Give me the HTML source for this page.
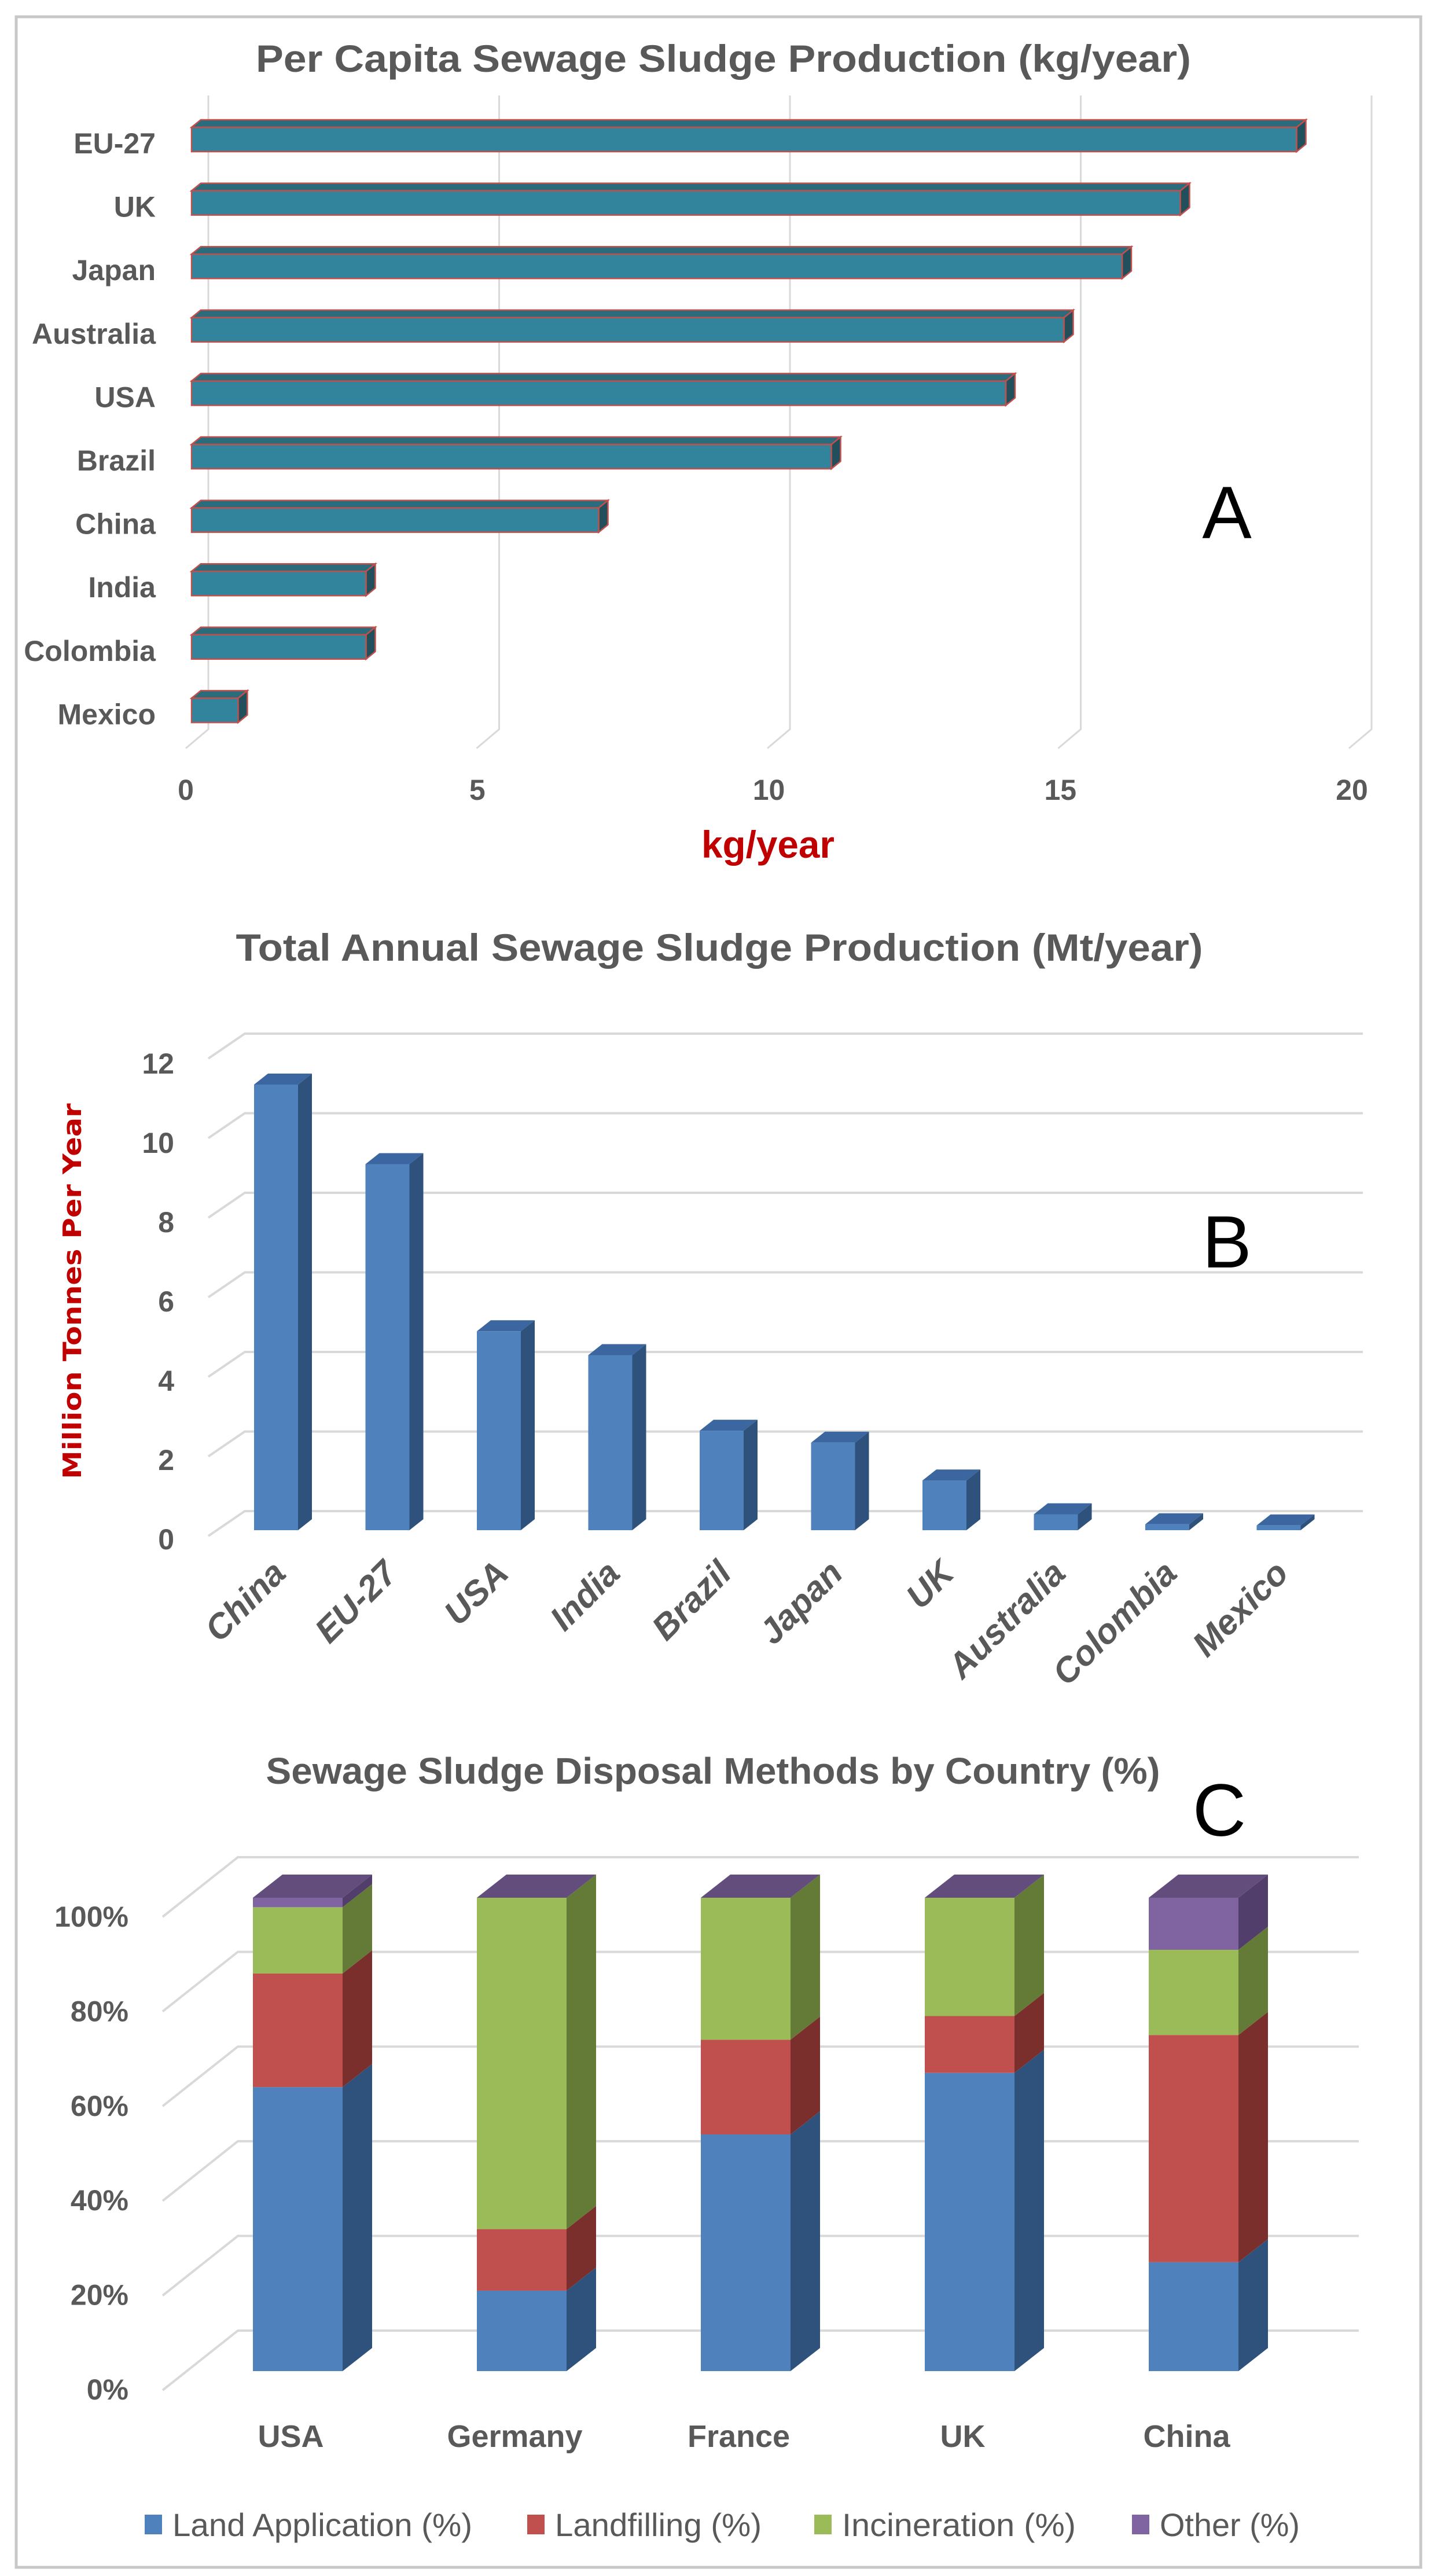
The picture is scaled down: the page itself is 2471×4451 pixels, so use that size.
<!DOCTYPE html>
<html><head><meta charset="utf-8"><style>
html,body{margin:0;padding:0;background:#fff}
svg{display:block}
text{font-family:"Liberation Sans Narrow","Liberation Sans",sans-serif}
</style></head><body>
<svg id="fig" width="2471" height="4451" viewBox="0 0 2471 4451" xmlns="http://www.w3.org/2000/svg">
<rect x="28" y="29" width="2427" height="4407" fill="#fff" stroke="#c8c8c8" stroke-width="5"/>
<g id="A"></g>
<g id="B"></g>
<g id="C"></g>
</svg>
<script>
const NS="http://www.w3.org/2000/svg";
// ---- Chart A data ----
const aCategories=["EU-27","UK","Japan","Australia","USA","Brazil","China","India","Colombia","Mexico"];
const aValues=[19,17,16,15,14,11,7,3,3,0.8];
const aTicks=[0,5,10,15,20];
// ---- Chart B data ----
const bCategories=["China","EU-27","USA","India","Brazil","Japan","UK","Australia","Colombia","Mexico"];
const bValues=[11.2,9.2,5.0,4.4,2.5,2.2,1.25,0.4,0.15,0.12];
const bTicks=[0,2,4,6,8,10,12];
// ---- Chart C data ----
const cCategories=["USA","Germany","France","UK","China"];
const cLand=[60,17,50,63,23];
const cLandfill=[24,13,20,12,48];
const cIncin=[14,70,30,25,18];
const cOther=[2,0,0,0,11];
const cSeriesNames=["Land Application (%)","Landfilling (%)","Incineration (%)","Other (%)"];
const cTicks=[0,20,40,60,80,100];

function el(tag,attrs,parent,txt){const e=document.createElementNS(NS,tag);for(const k in attrs)e.setAttribute(k,attrs[k]);if(txt!==undefined)e.textContent=txt;parent.appendChild(e);return e;}
function poly(pts){return pts.map(p=>p.join(",")).join(" ");}
const GREY="#595959";

// ===== Chart A =====
(function(){
const g=document.getElementById("A");
const x0=331,k=100.5,bx0=360,rowY0=220,rowH=109.6,bh=42,ddx=16,ddy=13;
const xs=v=>x0+v*k;
let t=el("text",{x:1250,y:124,"text-anchor":"middle","font-size":66,"font-weight":"bold",fill:GREY,textLength:1616,lengthAdjust:"spacingAndGlyphs"},g,"Per Capita Sewage Sludge Production (kg/year)");


aTicks.forEach(v=>{
 const bx=bx0+v*k;
 let l=el("polyline",{points:poly([[bx,165],[bx,1260],[bx-39,1293]]),fill:"none",stroke:"#d9d9d9","stroke-width":3},g);
 
 
 let tt=el("text",{x:321+v*100.75,y:1382,"text-anchor":"middle","font-size":50,"font-weight":"bold",fill:GREY},g,String(v));
 
 
});
aCategories.forEach((c,i)=>{
 const y=rowY0+i*rowH,x1=xs(aValues[i]);
 const bar=el("g",{},g);
 
 
 el("polygon",{points:poly([[x0,y],[x0+ddx,y-ddy],[x1+ddx,y-ddy],[x1,y]]),fill:"#2a6c7c",stroke:"#c0504d","stroke-width":2.5},bar);
 el("polygon",{points:poly([[x1,y],[x1+ddx,y-ddy],[x1+ddx,y+bh-ddy],[x1,y+bh]]),fill:"#21505c",stroke:"#c0504d","stroke-width":2.5},bar);
 el("rect",{x:x0,y:y,width:x1-x0,height:bh,fill:"#31849b",stroke:"#c0504d","stroke-width":2.5},bar);
 let lb=el("text",{x:269,y:y+bh/2+24,"text-anchor":"end","font-size":50,"font-weight":"bold",fill:GREY},g,c);
 
 
});
t=el("text",{x:1327,y:1482,"text-anchor":"middle","font-size":66,"font-weight":"bold",fill:"#c00000",textLength:230,lengthAdjust:"spacingAndGlyphs"},g,"kg/year");


t=el("text",{x:2120,y:930,"text-anchor":"middle","font-size":128,fill:"#000"},g,"A");


})();

// ===== Chart B =====
(function(){
const g=document.getElementById("B");
const base=2644,k=68.75,bx=439,step=192.5,bw=76,ddx=24,ddy=19,backBase=2611;
let t=el("text",{x:1243,y:1660,"text-anchor":"middle","font-size":66,"font-weight":"bold",fill:GREY,textLength:1671,lengthAdjust:"spacingAndGlyphs"},g,"Total Annual Sewage Sludge Production (Mt/year)");


bTicks.forEach(v=>{
 const y=backBase-v*k;
 let l=el("polyline",{points:poly([[360,y+43],[423,y],[2355,y]]),fill:"none",stroke:"#d9d9d9","stroke-width":4},g);
 
 
 let tt=el("text",{x:301,y:2659-v*68.5+18,"text-anchor":"end","font-size":50,"font-weight":"bold",fill:GREY},g,String(v));
 
 
});
bCategories.forEach((c,i)=>{
 const x=bx+i*step,yt=base-bValues[i]*k;
 const bar=el("g",{},g);
 
 
 el("polygon",{points:poly([[x,yt],[x+ddx,yt-ddy],[x+bw+ddx,yt-ddy],[x+bw,yt]]),fill:"#3c66a0"},bar);
 el("polygon",{points:poly([[x+bw,yt],[x+bw+ddx,yt-ddy],[x+bw+ddx,base-ddy],[x+bw,base]]),fill:"#2f527d"},bar);
 el("rect",{x:x,y:y=yt,width:bw,height:base-yt,fill:"#4f81bd"},bar);
 const ax=x+bw/2+20,ay=2722;
 let lb=el("text",{x:ax,y:ay,"text-anchor":"end","font-size":60,"font-weight":"bold","font-style":"italic",fill:GREY,transform:`rotate(-45 ${ax} ${ay})`},g,c);
 
 
});
t=el("text",{x:140,y:2231,"text-anchor":"middle","font-size":44,"font-weight":"bold",fill:"#c00000",style:'font-family:"DejaVu Sans",sans-serif',textLength:649,lengthAdjust:"spacingAndGlyphs",transform:"rotate(-90 140 2231)"},g,"Million Tonnes Per Year");


t=el("text",{x:2120,y:2190,"text-anchor":"middle","font-size":128,fill:"#000"},g,"B");


})();

// ===== Chart C =====
(function(){
const g=document.getElementById("C");
const base=4097,k=8.18,bx=437,step=387,bw=155,ddx=51,ddy=40,backBase=4027;
const front=["#4f81bd","#c0504d","#9bbb59","#8064a2"];
const side=["#2f527d","#7b2f2d","#647a37","#523e6a"];
const topc="#624d7d";
const series=[cLand,cLandfill,cIncin,cOther];
let t=el("text",{x:1232,y:3082,"text-anchor":"middle","font-size":64,"font-weight":"bold",fill:GREY,textLength:1545,lengthAdjust:"spacingAndGlyphs"},g,"Sewage Sludge Disposal Methods by Country (%)");


cTicks.forEach(v=>{
 const y=backBase-v*k;
 let l=el("polyline",{points:poly([[281,y+103],[411,y],[2348,y]]),fill:"none",stroke:"#d9d9d9","stroke-width":4},g);
 
 
 let tt=el("text",{x:222,y:4128-v*8.17+18,"text-anchor":"end","font-size":50,"font-weight":"bold",fill:GREY},g,v+"%");
 
 
});
cCategories.forEach((c,i)=>{
 const x=bx+i*step;
 let cum=0;
 const stack=el("g",{},g);
 
 
 series.forEach((s,si)=>{
  const v=s[i]; if(v<=0){return;}
  const y0=base-cum*k,y1=base-(cum+v)*k; cum+=v;
  const seg=el("g",{},stack);
  
  
  el("polygon",{points:poly([[x+bw,y1],[x+bw+ddx,y1-ddy],[x+bw+ddx,y0-ddy],[x+bw,y0]]),fill:side[si]},seg);
  el("rect",{x:x,y:y1,width:bw,height:y0-y1,fill:front[si]},seg);
 });
 const yt=base-cum*k;
 let tp=el("polygon",{points:poly([[x,yt],[x+ddx,yt-ddy],[x+bw+ddx,yt-ddy],[x+bw,yt]]),fill:topc},stack);
 
 
 let lb=el("text",{x:x+bw/2-12,y:4228,"text-anchor":"middle","font-size":54,"font-weight":"bold",fill:GREY},g,c);
 
 
});
const legX=[250,911,1407,1956],legW=[518,357,404,242];
cSeriesNames.forEach((n,i)=>{
 const lg=el("g",{},g);
 
 
 el("rect",{x:legX[i],y:4345,width:30,height:34,fill:front[i]},lg);
 el("text",{x:legX[i]+48,y:4382,"font-size":56,fill:GREY,textLength:legW[i],lengthAdjust:"spacingAndGlyphs"},lg,n);
});
t=el("text",{x:2107,y:3172,"text-anchor":"middle","font-size":128,fill:"#000"},g,"C");


})();
</script>
</body></html>
